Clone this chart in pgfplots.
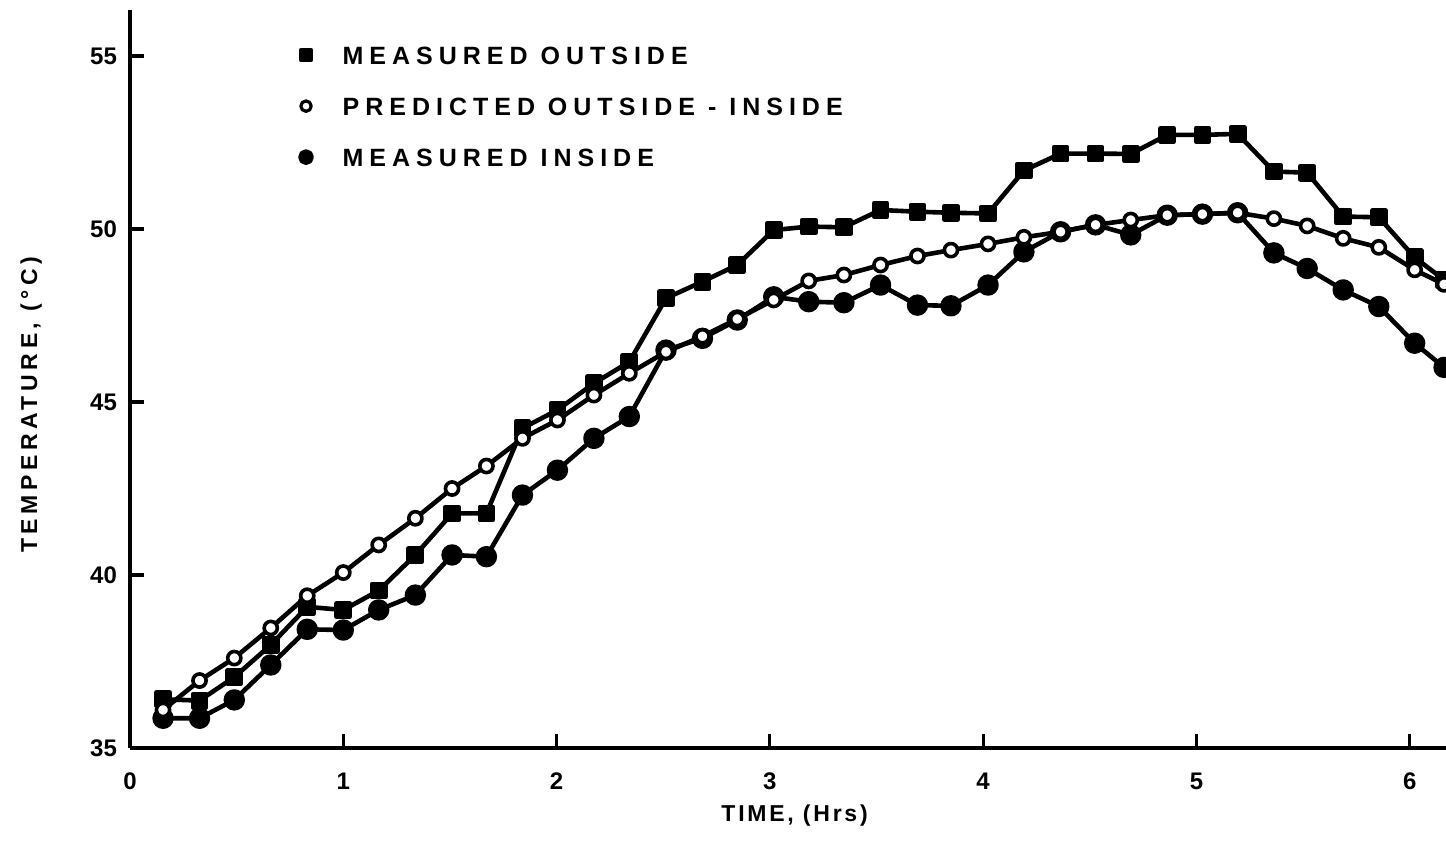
\documentclass[border=0pt]{standalone}
\usepackage{fontspec}
\setmainfont{Liberation Sans}
\newfontfamily\legfont[LetterSpace=24]{Liberation Sans}
\newfontfamily\labfont[LetterSpace=20]{Liberation Sans}
\newfontfamily\xlabfont[LetterSpace=12]{Liberation Sans}
\usepackage{pgfplots}
\usepackage{pgfplotstable}
\pgfplotsset{compat=1.18}

\pgfplotstableread{
x      out    pred   ins
0.155  36.41  36.10  35.86
0.326  36.37  36.95  35.86
0.489  37.05  37.60  36.39
0.660  37.98  38.47  37.40
0.831  39.08  39.40  38.43
1.000  38.99  40.07  38.41
1.166  39.55  40.87  38.99
1.338  40.58  41.64  39.42
1.510  41.78  42.50  40.58
1.671  41.78  43.15  40.53
1.840  44.24  43.95  42.31
2.004  44.77  44.48  43.03
2.175  45.54  45.20  43.95
2.341  46.16  45.83  44.58
2.513  48.00  46.45  46.50
2.684  48.48  46.90  46.84
2.847  48.96  47.40  47.37
3.018  49.97  47.95  48.04
3.182  50.07  48.50  47.90
3.347  50.05  48.67  47.87
3.519  50.55  48.96  48.38
3.692  50.50  49.22  47.80
3.849  50.47  49.39  47.78
4.023  50.45  49.57  48.38
4.191  51.69  49.76  49.34
4.363  52.18  49.92  49.92
4.527  52.18  50.12  50.12
4.692  52.17  50.26  49.83
4.863  52.72  50.40  50.40
5.028  52.72  50.43  50.43
5.193  52.75  50.47  50.47
5.363  51.66  50.30  49.31
5.519  51.63  50.09  48.86
5.688  50.36  49.73  48.24
5.855  50.34  49.47  47.76
6.023  49.18  48.82  46.70
6.161  48.53  48.40  46.00
}\datatable

\begin{document}
\begin{tikzpicture}
\begin{axis}[
  scale only axis, width=658pt, height=369pt,
  xmin=0, xmax=6.17, ymin=35, ymax=56.33,
  axis x line*=bottom, axis y line*=left,
  axis line style={line width=2pt, black},
  xtick={0,1,2,3,4,5,6}, xticklabels={0,1,2,3,4,5,6},
  ytick={35,40,45,50,55}, yticklabels={35,40,45,50,55},
  tick align=inside, major tick length=7pt,
  tick style={line width=1.6pt, black},
  xticklabel style={font=\bfseries\fontsize{12}{12}\selectfont, yshift=-9pt},
  yticklabel style={font=\bfseries\fontsize{12}{12}\selectfont, xshift=-3pt},
  xlabel={TIME, (Hrs)},
  xlabel style={font=\xlabfont\bfseries\fontsize{11.5}{12}\selectfont, at={(axis description cs:0.505,-0.092)}, anchor=center},
  ylabel={TEMPERATURE, (\textdegree C)},
  ylabel style={font=\labfont\bfseries\fontsize{11.5}{12}\selectfont, at={(axis description cs:-0.075,0.465)}, anchor=center},
  clip=false,
  legend cell align=left,
  legend style={at={(axis description cs:0.1292,0.9516)}, anchor=north west,
    draw=none, fill=none, inner sep=0pt, row sep=16.5pt, column sep=15.5pt,
    font=\legfont\bfseries\fontsize{12.5}{13}\selectfont,
    nodes={inner sep=0pt, text height=9pt, text depth=0pt}},
  legend image code/.code={\draw[#1] plot coordinates {(2.6pt,0pt)};},
  every axis plot/.append style={line width=2.3pt, line join=round},
]
\coordinate (O) at (axis cs:0,35);
\addlegendimage{only marks, mark=square*, mark size=2.5pt}
\addlegendentry{MEASURED OUTSIDE}
\addlegendimage{only marks, mark=*, mark size=2.6pt, mark options={fill=white, line width=1.6pt}}
\addlegendentry{PREDICTED OUTSIDE - INSIDE}
\addlegendimage{only marks, mark=*, mark size=2.8pt}
\addlegendentry{MEASURED INSIDE}

\addplot[black, mark=square*, mark size=3.3pt, forget plot] table[x=x, y=out] {\datatable};
\addplot[black, mark=*, mark size=4.2pt, forget plot] table[x=x, y=ins] {\datatable};
\addplot[black, mark=*, mark size=3.3pt, mark options={fill=white, line width=1.8pt}, forget plot] table[x=x, y=pred] {\datatable};
\end{axis}
\pgfresetboundingbox
\path[use as bounding box] (O) ++(-65pt,-55.5pt) rectangle ++(723pt,429.5pt);
\end{tikzpicture}
\end{document}
